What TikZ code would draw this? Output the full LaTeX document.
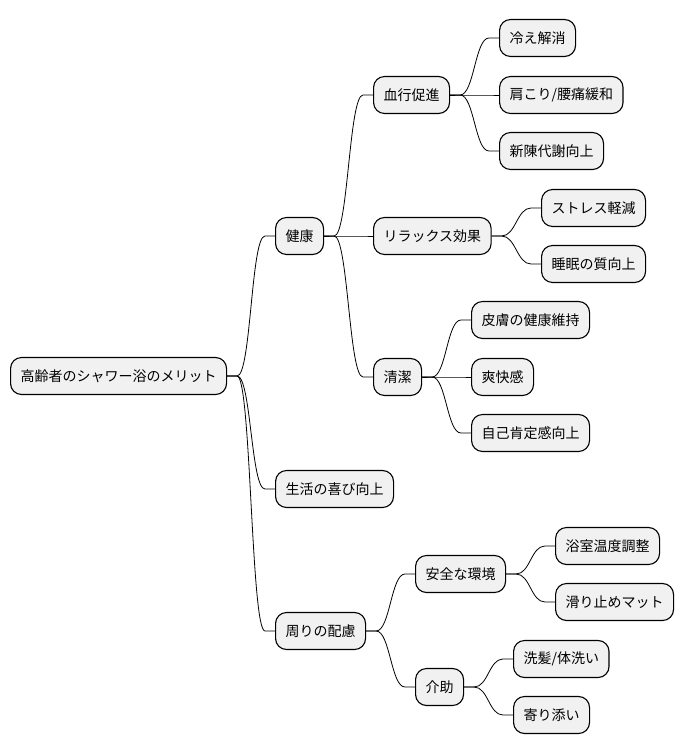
\documentclass[tikz,border=0pt]{standalone}
\usepackage{fontspec}
\setmainfont{Noto Sans CJK JP}
\definecolor{boxfill}{HTML}{F1F1F1}
\tikzset{
  idea/.style={draw,line width=1.1pt,fill=boxfill,rounded corners=11pt,
    minimum height=37pt,inner xsep=10pt,anchor=west,font=\fontsize{14pt}{16pt}\selectfont},
  link/.style={line width=0.8pt}
}
\newcommand{\branch}[2]{\draw[link] (#1.east) -- ++(10,0) .. controls +(14,0) and +(-14,0) .. ([xshift=-10pt]#2.west) -- (#2.west);}
\begin{document}
\begin{tikzpicture}[x=1pt,y=-1pt]
\useasboundingbox (0,0) rectangle (684,752);

\node[idea] (root) at (10,376) {高齢者のシャワー浴のメリット};

\node[idea] (kenko) at (275,236) {健康};
\node[idea] (kekko) at (373,95) {血行促進};
\node[idea] (hie) at (499,38) {冷え解消};
\node[idea] (katakori) at (499,95) {肩こり/腰痛緩和};
\node[idea] (shinchin) at (499,151) {新陳代謝向上};
\node[idea] (relax) at (373,236) {リラックス効果};
\node[idea] (stress) at (541,208) {ストレス軽減};
\node[idea] (suimin) at (541,264) {睡眠の質向上};
\node[idea] (seiketsu) at (373,377) {清潔};
\node[idea] (hifu) at (471,320) {皮膚の健康維持};
\node[idea] (sokai) at (471,377) {爽快感};
\node[idea] (jiko) at (471,433) {自己肯定感向上};

\node[idea] (yorokobi) at (275,489) {生活の喜び向上};

\node[idea] (hairyo) at (275,631) {周りの配慮};
\node[idea] (anzen) at (415,574) {安全な環境};
\node[idea] (yokushitsu) at (555,546) {浴室温度調整};
\node[idea] (suberi) at (555,602) {滑り止めマット};
\node[idea] (kaijo) at (415,687) {介助};
\node[idea] (senpatsu) at (513,659) {洗髪/体洗い};
\node[idea] (yorisoi) at (513,715) {寄り添い};

% connectors
\branch{root}{kenko}
\branch{root}{yorokobi}
\branch{root}{hairyo}
\branch{kenko}{kekko}
\branch{kenko}{relax}
\branch{kenko}{seiketsu}
\branch{kekko}{hie}
\branch{kekko}{katakori}
\branch{kekko}{shinchin}
\branch{relax}{stress}
\branch{relax}{suimin}
\branch{seiketsu}{hifu}
\branch{seiketsu}{sokai}
\branch{seiketsu}{jiko}
\branch{hairyo}{anzen}
\branch{hairyo}{kaijo}
\branch{anzen}{yokushitsu}
\branch{anzen}{suberi}
\branch{kaijo}{senpatsu}
\branch{kaijo}{yorisoi}
\end{tikzpicture}
\end{document}
